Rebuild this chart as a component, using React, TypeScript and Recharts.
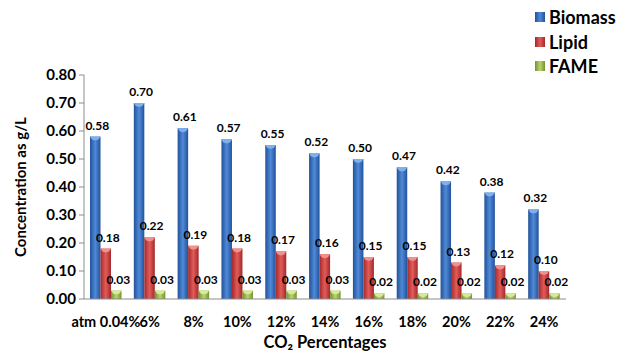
import { BarChart, Bar, XAxis, YAxis, LabelList } from "recharts";

const categories = ["atm 0.04%", "6%", "8%", "10%", "12%", "14%", "16%", "18%", "20%", "22%", "24%"];
const biomass = [0.58, 0.7, 0.61, 0.57, 0.55, 0.52, 0.5, 0.47, 0.42, 0.38, 0.32];
const lipid = [0.18, 0.22, 0.19, 0.18, 0.17, 0.16, 0.15, 0.15, 0.13, 0.12, 0.1];
const fame = [0.03, 0.03, 0.03, 0.03, 0.03, 0.03, 0.02, 0.02, 0.02, 0.02, 0.02];
const yTicks = [0, 0.1, 0.2, 0.3, 0.4, 0.5, 0.6, 0.7, 0.8];

const data = categories.map((c, i) => ({
  c,
  Biomass: biomass[i],
  Lipid: lipid[i],
  FAME: fame[i],
}));

const font = "Lato, 'Open Sans', sans-serif";

const series = [
  { key: "Biomass", id: "gBlue", edge: "#22519a", mid: "#4f8ad8", cap: "#7fb0ee" },
  { key: "Lipid", id: "gRed", edge: "#a3292a", mid: "#e25c59", cap: "#f09090" },
  { key: "FAME", id: "gGreen", edge: "#76922f", mid: "#b8d46c", cap: "#d6ea9a" },
];

function Bar3D(props: any) {
  const { x, y, width, height, fill, cap } = props;
  if (!height || height <= 0) return null;
  const c = Math.min(3, height / 2);
  return (
    <g>
      <rect x={x} y={y} width={width} height={height} fill={fill} />
      <polygon
        points={`${x},${y} ${x + width},${y} ${x + width - 2},${y + c} ${x + width / 2},${y + c + 1} ${x + 2},${y + c}`}
        fill={cap}
      />
    </g>
  );
}

function LegendBox() {
  return (
    <div
      style={{
        position: "absolute",
        left: 535,
        top: 5,
        fontFamily: font,
        fontWeight: 700,
        fontSize: 18,
        lineHeight: "24.5px",
      }}
    >
      {series.map((s) => (
        <div key={s.key} style={{ display: "flex", alignItems: "center" }}>
          <span
            style={{
              display: "inline-block",
              width: 10,
              height: 10,
              marginRight: 4,
              background: `linear-gradient(90deg, ${s.edge}, ${s.mid}, ${s.edge})`,
            }}
          />
          {s.key}
        </div>
      ))}
    </div>
  );
}

function YLabel(props: any) {
  const { viewBox } = props;
  const cx = 20;
  const cy = viewBox.y + viewBox.height / 2;
  return (
    <text
      x={cx}
      y={cy}
      transform={`rotate(-90 ${cx} ${cy})`}
      textAnchor="middle"
      dominantBaseline="central"
      fill="#000"
      fontSize={15}
      fontWeight={700}
      fontFamily={font}
    >
      Concentration as g/L
    </text>
  );
}

export default function App() {
  return (
    <div style={{ position: "absolute", left: 0, top: 0, width: 623, height: 352, background: "#fff" }}>
      <BarChart
        width={623}
        height={352}
        data={data}
        margin={{ top: 75, right: 57, bottom: 0, left: 0 }}
        barSize={10.5}
        barGap={0}
      >
        <defs>
          {series.map((s) => (
            <linearGradient key={s.id} id={s.id} x1="0" y1="0" x2="1" y2="0">
              <stop offset="0%" stopColor={s.edge} />
              <stop offset="50%" stopColor={s.mid} />
              <stop offset="100%" stopColor={s.edge} />
            </linearGradient>
          ))}
        </defs>
        <XAxis
          dataKey="c"
          interval={0}
          tickLine={false}
          tickMargin={12}
          height={53}
          stroke="#8c8c8c"
          tick={{ fill: "#000", fontSize: 14.5, fontWeight: 700, fontFamily: font }}
          label={{
            value: "CO₂ Percentages",
            position: "insideBottom",
            offset: 4,
            fill: "#000",
            fontSize: 16.5,
            fontWeight: 700,
            fontFamily: font,
          }}
        />
        <YAxis
          width={84}
          domain={[0, 0.8]}
          ticks={yTicks}
          tickSize={5}
          tickMargin={3}
          stroke="#8c8c8c"
          tickFormatter={(v) => Number(v).toFixed(2)}
          tick={{ fill: "#000", fontSize: 15, fontWeight: 700, fontFamily: font }}
          label={<YLabel />}
        />
        {series.map((s) => (
          <Bar
            key={s.key}
            dataKey={s.key}
            fill={`url(#${s.id})`}
            isAnimationActive={false}
            shape={(p: any) => <Bar3D {...p} cap={s.cap} />}
          >
            <LabelList
              dataKey={s.key}
              position="top"
              offset={7}
              dx={2}
              formatter={(v: any) => Number(v).toFixed(2)}
              style={{ fill: "#000", fontSize: 12, fontWeight: 700, fontFamily: font }}
            />
          </Bar>
        ))}
      </BarChart>
      <LegendBox />
    </div>
  );
}
